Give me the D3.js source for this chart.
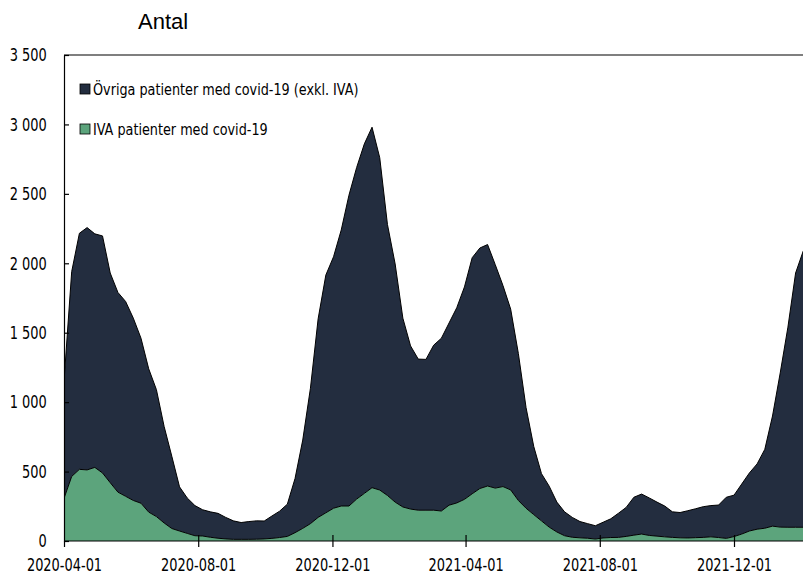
<!DOCTYPE html>
<html>
<head>
<meta charset="utf-8">
<script src="https://cdn.jsdelivr.net/npm/d3@7"></script>
<style>
  body { margin: 0; background: #fff; }
  svg { display: block; }
  .axis text { font-family: "DejaVu Sans Condensed", "DejaVu Sans", sans-serif; font-size: 18px; fill: #000; }
  .legend text { font-family: "DejaVu Sans Condensed", "DejaVu Sans", sans-serif; font-size: 16px; fill: #000; }
</style>
</head>
<body>
<div id="chart"></div>
<script>
// ---------------- DATA ----------------
// weekly observations, first week 2020-04-01
const startDate = "2020-04-01";
const seriesNames = ["IVA patienter med covid-19", "Övriga patienter med covid-19 (exkl. IVA)"];
const legendOrder = ["Övriga patienter med covid-19 (exkl. IVA)", "IVA patienter med covid-19"];

const iva = [307, 465, 516, 512, 530, 490, 420, 352, 322, 292, 272, 208, 176, 130, 90, 72,
  55, 38, 36, 27, 20, 15, 12, 12, 12, 13, 15, 19, 25, 33, 60, 91,
  125, 170, 203, 236, 252, 252, 302, 343, 384, 367, 328, 280, 245, 230, 222, 222,
  222, 216, 258, 274, 300, 340, 378, 396, 381, 392, 368, 292, 236, 190, 145, 100,
  65, 38, 27, 23, 20, 14, 22, 25, 26, 33, 42, 50, 40, 35, 30, 26,
  23, 22, 24, 26, 30, 25, 19, 32, 50, 72, 85, 92, 107, 100, 99, 99, 99];

const ovriga = [843, 1475, 1700, 1745, 1682, 1707, 1510, 1438, 1403, 1313, 1188, 1032, 914, 695, 520, 318,
  255, 217, 189, 183, 179, 155, 133, 121, 128, 132, 129, 161, 190, 232, 390, 636,
  975, 1430, 1712, 1811, 1988, 2238, 2388, 2517, 2596, 2393, 1952, 1715, 1360, 1175, 1088, 1086,
  1188, 1244, 1312, 1406, 1530, 1700, 1732, 1739, 1609, 1448, 1302, 1058, 724, 490, 340, 295,
  215, 172, 143, 117, 105, 96, 113, 135, 174, 209, 273, 288, 270, 245, 222, 184,
  182, 196, 208, 221, 225, 234, 296, 298, 360, 418, 470, 568, 793, 1110, 1441, 1831, 1991];

const xTicks = ["2020-04-01", "2020-08-01", "2020-12-01", "2021-04-01", "2021-08-01", "2021-12-01"];
const yTicks = [0, 500, 1000, 1500, 2000, 2500, 3000, 3500];

const colors = {
  "IVA patienter med covid-19": "#5ca47c",
  "Övriga patienter med covid-19 (exkl. IVA)": "#232d3f"
};

// ---------------- SVG ----------------
const width = 803, height = 574;
const plotLeft = 64, plotRight = 803, plotTop = 55, plotBottom = 541;
const squeeze = 0.8; // narrow the tick labels like the condensed font of the original

const svg = d3.select("#chart").append("svg")
  .attr("width", width)
  .attr("height", height);

const parse = d3.utcParse("%Y-%m-%d");
const t0 = parse(startDate);
const dates = iva.map((d, i) => d3.utcDay.offset(t0, i * 7));

const rows = dates.map((d, i) => ({
  date: d,
  "IVA patienter med covid-19": iva[i],
  "Övriga patienter med covid-19 (exkl. IVA)": ovriga[i]
}));

// ---------------- SCALES ----------------
const xScale = d3.scaleUtc()
  .domain([parse("2020-04-01"), parse("2021-12-01")])
  .range([plotLeft, 734]);

const yScale = d3.scaleLinear()
  .domain([0, 3500])
  .range([plotBottom, plotTop]);

const locale = d3.formatLocale({ decimal: ",", thousands: " ", grouping: [3], currency: ["", ""] });
const fmt = locale.format(",d");

// ---------------- AREAS ----------------
const stack = d3.stack().keys(seriesNames);
const layers = stack(rows);

svg.append("defs").append("clipPath").attr("id", "plotclip")
  .append("rect")
  .attr("x", plotLeft).attr("y", plotTop - 2)
  .attr("width", plotRight - plotLeft).attr("height", plotBottom - plotTop + 2);

const area = d3.area()
  .x(d => xScale(d.data.date))
  .y0(d => yScale(d[0]))
  .y1(d => yScale(d[1]));

const topLine = d3.line()
  .x(d => xScale(d.data.date))
  .y(d => yScale(d[1]));

const g = svg.append("g").attr("clip-path", "url(#plotclip)");

g.selectAll("path.area")
  .data(layers)
  .enter()
  .append("path")
  .attr("class", "area")
  .attr("d", area)
  .style("fill", d => colors[d.key]);

g.selectAll("path.edge")
  .data(layers)
  .enter()
  .append("path")
  .attr("class", "edge")
  .attr("d", topLine)
  .style("fill", "none")
  .style("stroke", "#000")
  .style("stroke-width", 1);

// ---------------- AXES ----------------
// top frame line
svg.append("line")
  .attr("x1", plotLeft).attr("x2", plotRight)
  .attr("y1", plotTop).attr("y2", plotTop)
  .style("stroke", "#000").style("stroke-width", 1.2);

const yaxis = d3.axisLeft(yScale)
  .tickValues(yTicks)
  .tickFormat(fmt)
  .tickSizeInner(-5)
  .tickSizeOuter(0)
  .tickPadding(17.3 / squeeze);

svg.append("g")
  .attr("class", "axis")
  .attr("transform", "translate(" + plotLeft + ",0)")
  .call(yaxis)
  .call(s => s.selectAll("text").attr("transform", "scale(" + squeeze + ",1)"))
  .call(s => s.selectAll("path, line").style("stroke", "#000").style("stroke-width", 1.2));

const xaxis = d3.axisBottom(xScale)
  .tickValues(xTicks.map(parse))
  .tickFormat(d3.utcFormat("%Y-%m-%d"))
  .tickSizeInner(6)
  .tickSizeOuter(0)
  .tickPadding(11);

svg.append("g")
  .attr("class", "axis")
  .attr("transform", "translate(0," + plotBottom + ")")
  .call(xaxis)
  .call(s => s.select(".domain").attr("d", "M" + plotLeft + ",0H" + plotRight))
  .call(s => s.selectAll(".tick line").attr("y1", d => +d === +parse("2020-04-01") ? 0 : -6))
  .call(s => s.selectAll("text").attr("transform", "scale(" + squeeze + ",1)"))
  .call(s => s.selectAll("path, line").style("stroke", "#000").style("stroke-width", 1.2));

// ---------------- TITLE ----------------
svg.append("text")
  .attr("x", 138)
  .attr("y", 29)
  .style("font-family", "'Liberation Sans', Arial, sans-serif")
  .style("font-size", "22px")
  .style("fill", "#000")
  .text("Antal");

// ---------------- LEGEND ----------------
const legend = svg.append("g").attr("class", "legend");
const items = legend.selectAll("g")
  .data(legendOrder)
  .enter()
  .append("g")
  .attr("transform", (d, i) => "translate(80," + (89 + i * 40) + ")");

items.append("rect")
  .attr("x", 0).attr("y", -5)
  .attr("width", 10).attr("height", 10)
  .style("fill", d => colors[d])
  .style("stroke", "#000")
  .style("stroke-width", 0.8);

items.append("text")
  .attr("transform", "translate(13,0) scale(0.89,1)")
  .attr("dy", "0.35em")
  .text(d => d);
</script>
</body>
</html>
